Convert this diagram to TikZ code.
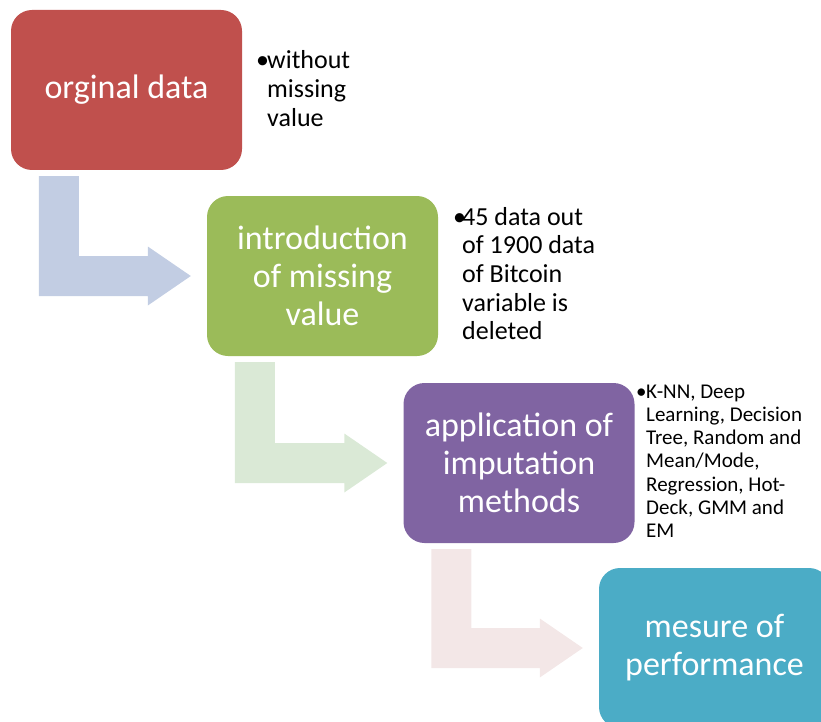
\documentclass[tikz,border=0pt]{standalone}
\usepackage{fontspec}
\setmainfont{Carlito}
\usetikzlibrary{calc}
\definecolor{cred}{HTML}{C0504D}
\definecolor{cgreen}{HTML}{9BBB59}
\definecolor{cpurple}{HTML}{8064A2}
\definecolor{cteal}{HTML}{4BACC6}
\definecolor{arblue}{HTML}{C2CDE3}
\definecolor{argreen}{HTML}{DAE9D6}
\definecolor{arpink}{HTML}{F3E7E7}
\tikzset{
  stagebox/.style={rectangle, rounded corners=21pt, minimum width=231pt, minimum height=160pt,
    inner sep=0pt, text=white, align=center, font=\fontsize{34}{38}\selectfont},
  notebig/.style={inner sep=0pt, anchor=base west, text=black, font=\fontsize{26}{28.7}\selectfont},
  notesmall/.style={inner sep=0pt, anchor=base west, text=black, font=\fontsize{21}{23.3}\selectfont}
}
\newcommand{\bentarr}[3]{%
  \fill[#3] let \p1=(#1.south west), \p2=(#2.west) in
    (\x1+28pt,\y1-6pt) -- (\x1+68pt,\y1-6pt) -- (\x1+68pt,\y2+20pt) -- (\x2-59pt,\y2+20pt)
    -- (\x2-59pt,\y2+29.5pt) -- (\x2-16pt,\y2) -- (\x2-59pt,\y2-29.5pt) -- (\x2-59pt,\y2-20pt)
    -- (\x1+28pt,\y2-20pt) -- cycle;}
\begin{document}
\begin{tikzpicture}[x=1pt,y=-1pt]
\useasboundingbox (0,0) rectangle (821,722);
\clip (0,0) rectangle (821,722);
\node[stagebox, fill=cred] (b1) at (126.5,90) {orginal data};
\node[stagebox, fill=cgreen] (b2) at (322.5,276) {introduction\\of missing\\value};
\node[stagebox, fill=cpurple] (b3) at (519,463) {application of\\imputation\\methods};
\node[stagebox, fill=cteal] (b4) at (714.5,648) {mesure of\\performance};
\bentarr{b1}{b2}{arblue}
\bentarr{b2}{b3}{argreen}
\bentarr{b3}{b4}{arpink}
\node[notebig] (n1) at (256,69) {\begin{tabular}[t]{@{}l@{}l@{}}\makebox[11pt][l]{•}&without\\&missing\\&value\end{tabular}};
\node[notebig] (n2) at (453,225) {\begin{tabular}[t]{@{}l@{}l@{}}\makebox[9pt][l]{•}&45 data out\\&of 1900 data\\&of Bitcoin\\&variable is\\&deleted\end{tabular}};
\node[notesmall] (n3) at (636,398) {\begin{tabular}[t]{@{}l@{}l@{}}\makebox[10pt][l]{•}&K-NN, Deep\\&Learning, Decision\\&Tree, Random and\\&Mean/Mode,\\&Regression, Hot-\\&Deck, GMM and\\&EM\end{tabular}};
\end{tikzpicture}
\end{document}
